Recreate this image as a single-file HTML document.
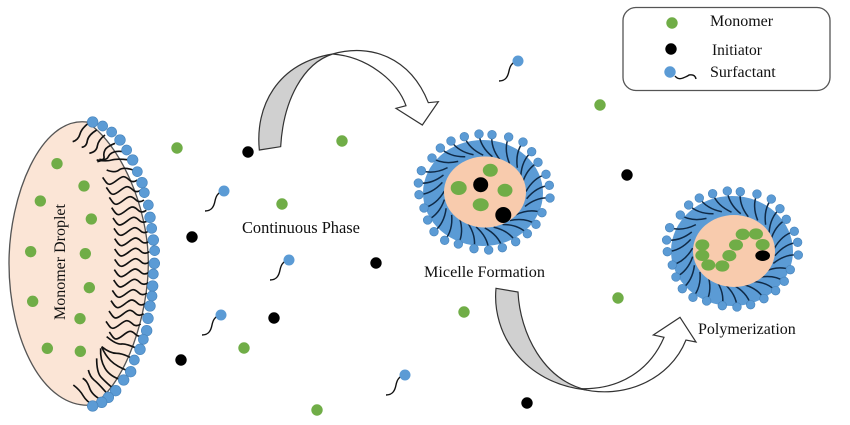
<!DOCTYPE html>
<html><head><meta charset="utf-8"><style>
html,body{margin:0;padding:0;background:#fff;width:850px;height:425px;overflow:hidden}
svg{display:block}
text{font-family:"Liberation Serif",serif;fill:#111}
</style></head><body>
<svg width="850" height="425" viewBox="0 0 850 425" xmlns="http://www.w3.org/2000/svg">
<defs>
<path id="w" d="M0,0 C-8,6 -14,6 -20,3 C-28,-2 -32,-10 -42,-10 C-54,-10 -70,13 -84,13 C-92,13 -98,0 -104,-8" fill="none" stroke="#111" stroke-width="5"/>
<path id="t" d="M0,0 C0,27 12,51 33,72" fill="none" stroke="#0f2a47" stroke-width="4.5"/>
<circle id="h" r="13" fill="#5b9bd5" stroke="#4a86bd" stroke-width="2"/>
<path id="s" d="M0,0 C-6,1 -8,5 -9,10 C-10,15 -12,20 -19,20" fill="none" stroke="#111" stroke-width="1.4"/>
<g id="ring">
<g transform="translate(237,57) rotate(-6)"><use href="#t"/></g><g transform="translate(276,59) rotate(7)"><use href="#t"/></g><g transform="translate(326,66) rotate(23)"><use href="#t"/></g><g transform="translate(369,81) rotate(37)"><use href="#t"/></g><g transform="translate(395,110) rotate(49)"><use href="#t"/></g><g transform="translate(414,142) rotate(61)"><use href="#t"/></g><g transform="translate(438,178) rotate(74)"><use href="#t"/></g><g transform="translate(448,211) rotate(84)"><use href="#t"/></g><g transform="translate(450,249) rotate(96)"><use href="#t"/></g><g transform="translate(426,293) rotate(110)"><use href="#t"/></g><g transform="translate(408,328) rotate(123)"><use href="#t"/></g><g transform="translate(382,356) rotate(135)"><use href="#t"/></g><g transform="translate(347,380) rotate(148)"><use href="#t"/></g><g transform="translate(307,398) rotate(163)"><use href="#t"/></g><g transform="translate(266,405) rotate(176)"><use href="#t"/></g><g transform="translate(222,401) rotate(191)"><use href="#t"/></g><g transform="translate(175,387) rotate(207)"><use href="#t"/></g><g transform="translate(134,376) rotate(220)"><use href="#t"/></g><g transform="translate(102,350) rotate(232)"><use href="#t"/></g><g transform="translate(83,315) rotate(244)"><use href="#t"/></g><g transform="translate(72,279) rotate(255)"><use href="#t"/></g><g transform="translate(57,239) rotate(267)"><use href="#t"/></g><g transform="translate(55,204) rotate(277)"><use href="#t"/></g><g transform="translate(64,167) rotate(288)"><use href="#t"/></g><g transform="translate(96,129) rotate(302)"><use href="#t"/></g><g transform="translate(121,99) rotate(314)"><use href="#t"/></g><g transform="translate(153,78) rotate(326)"><use href="#t"/></g><g transform="translate(193,65) rotate(339)"><use href="#t"/></g>
<use href="#h" x="237" y="57"/><use href="#h" x="276" y="59"/><use href="#h" x="326" y="66"/><use href="#h" x="369" y="81"/><use href="#h" x="395" y="110"/><use href="#h" x="414" y="142"/><use href="#h" x="438" y="178"/><use href="#h" x="448" y="211"/><use href="#h" x="450" y="249"/><use href="#h" x="426" y="293"/><use href="#h" x="408" y="328"/><use href="#h" x="382" y="356"/><use href="#h" x="347" y="380"/><use href="#h" x="307" y="398"/><use href="#h" x="266" y="405"/><use href="#h" x="222" y="401"/><use href="#h" x="175" y="387"/><use href="#h" x="134" y="376"/><use href="#h" x="102" y="350"/><use href="#h" x="83" y="315"/><use href="#h" x="72" y="279"/><use href="#h" x="57" y="239"/><use href="#h" x="55" y="204"/><use href="#h" x="64" y="167"/><use href="#h" x="96" y="129"/><use href="#h" x="121" y="99"/><use href="#h" x="153" y="78"/><use href="#h" x="193" y="65"/>
</g>
</defs>

<!-- Droplet -->
<g transform="translate(0,100) scale(.33333)">
<path d="M260,66 C120,50 27,290 27,490 C27,720 130,930 278,915 C380,850 445,640 445,490 C445,320 360,130 260,66 Z" fill="#fbe5d6" stroke="#555" stroke-width="4"/>
<g fill="#70ad47">
<circle cx="171" cy="191" r="17"/><circle cx="252" cy="258" r="17"/><circle cx="121" cy="303" r="17"/><circle cx="274" cy="357" r="17"/><circle cx="92" cy="455" r="17"/><circle cx="256" cy="461" r="17"/><circle cx="268" cy="563" r="17"/><circle cx="98" cy="604" r="17"/><circle cx="240" cy="656" r="17"/><circle cx="142" cy="745" r="17"/><circle cx="241" cy="754" r="17"/>
</g>
<g fill="none" stroke="#111" stroke-width="5">
<path d="M265,70 Q245,85 240,102 Q235,120 218,125"/>
<path d="M290,90 Q265,105 262,122 Q260,140 245,142"/>
<path d="M315,105 Q295,120 292,138 Q290,155 268,160"/>
<path d="M345,130 Q320,140 315,150 Q310,160 312,170 Q315,180 292,185"/>
<path d="M370,155 Q335,150 325,170 Q320,182 298,178"/>
<path d="M390,180 Q350,175 335,180 Q320,185 290,180"/>
<path d="M400,210 Q370,200 357,210 Q345,220 320,210"/>
<path d="M420,750 Q380,730 365,732 Q350,735 320,710"/>
<path d="M405,780 Q370,760 350,760 Q330,760 305,740"/>
<path d="M390,815 Q350,800 332,782 Q315,765 305,740"/>
<path d="M365,840 Q330,830 315,805 Q300,780 302,745"/>
<path d="M345,870 Q315,845 302,830 Q290,815 290,775"/>
<path d="M325,885 Q295,850 282,840 Q270,830 265,810"/>
<path d="M305,900 Q275,885 268,862 Q260,840 248,835"/>
<path d="M280,915 Q260,905 250,888 Q240,870 220,855"/>
</g>
<use href="#w" x="412" y="240"/><use href="#w" x="423" y="270"/><use href="#w" x="432" y="300"/><use href="#w" x="439" y="331"/><use href="#w" x="443" y="362"/><use href="#w" x="446" y="393"/><use href="#w" x="448" y="424"/><use href="#w" x="448" y="455"/><use href="#w" x="448" y="486"/><use href="#w" x="447" y="517"/><use href="#w" x="445" y="548"/><use href="#w" x="441" y="579"/><use href="#w" x="437" y="610"/><use href="#w" x="431" y="641"/><use href="#w" x="422" y="672"/><use href="#w" x="432" y="704"/>
<g fill="#5b9bd5" stroke="#4a86bd" stroke-width="2">
<circle cx="278" cy="66" r="16"/><circle cx="308" cy="78" r="15"/><circle cx="335" cy="96" r="15"/><circle cx="360" cy="120" r="16"/><circle cx="380" cy="150" r="15"/><circle cx="398" cy="180" r="16"/><circle cx="412" cy="215" r="15"/><circle cx="426" cy="248" r="16"/><circle cx="433" cy="278" r="15"/><circle cx="445" cy="315" r="15"/><circle cx="450" cy="352" r="16"/><circle cx="455" cy="385" r="15"/><circle cx="460" cy="420" r="16"/><circle cx="464" cy="452" r="15"/><circle cx="463" cy="490" r="16"/><circle cx="460" cy="522" r="15"/><circle cx="458" cy="558" r="16"/><circle cx="456" cy="588" r="15"/><circle cx="450" cy="618" r="16"/><circle cx="444" cy="655" r="16"/><circle cx="440" cy="692" r="16"/><circle cx="430" cy="718" r="15"/><circle cx="420" cy="748" r="16"/><circle cx="403" cy="780" r="15"/><circle cx="392" cy="815" r="16"/><circle cx="371" cy="840" r="16"/><circle cx="347" cy="872" r="16"/><circle cx="325" cy="892" r="16"/><circle cx="305" cy="907" r="16"/><circle cx="278" cy="918" r="16"/>
</g>
</g>
<text transform="translate(65,320) rotate(-90)" font-size="16">Monomer Droplet</text>

<!-- Arrow 1 -->
<g transform="translate(240,40) scale(.33333)" stroke="#333" stroke-width="3.6" stroke-linejoin="miter">
<path d="M278,42 C390,10 510,50 565,188 L595,185 L547,255 L468,205 L498,197 C470,120 380,50 278,42 Z" fill="#fff"/>
<path d="M58,330 C45,200 110,70 278,42 C190,70 130,180 122,320 Z" fill="#d0d0d0"/>
</g>
<!-- Arrow 2 -->
<g transform="translate(480,280) scale(.33333)" stroke="#333" stroke-width="3.6" stroke-linejoin="miter">
<path d="M300,326 C430,360 570,300 618,180 L648,186 L600,112 L520,165 L552,172 C510,270 420,330 300,326 Z" fill="#fff"/>
<path d="M48,25 L114,36 C120,160 190,300 320,330 C130,310 35,160 48,25 Z" fill="#d0d0d0"/>
</g>

<!-- Micelle 1 -->
<ellipse cx="483" cy="193" rx="60" ry="53" fill="#5b9bd5"/>
<g transform="translate(400,115) scale(.33333)"><use href="#ring"/></g>
<ellipse cx="485" cy="192" rx="41" ry="35.5" fill="#f8cbad"/>
<g fill="#70ad47"><ellipse cx="490.3" cy="170.3" rx="7.5" ry="6.5"/><ellipse cx="458.7" cy="188" rx="8" ry="7"/><ellipse cx="505" cy="190.3" rx="7.5" ry="6.5"/><ellipse cx="480.7" cy="204.7" rx="8" ry="6.5"/></g>
<circle cx="480.7" cy="184.7" r="7.5" fill="#000"/><circle cx="503.3" cy="215" r="8" fill="#000"/>

<!-- Micelle 2 -->
<ellipse cx="732" cy="251" rx="61" ry="55" fill="#5b9bd5"/>
<g transform="translate(648.3,172) scale(.33333)"><use href="#ring"/></g>
<ellipse cx="734" cy="251" rx="41" ry="36" fill="#f8cbad"/>
<g transform="translate(650,180) scale(.33333)">
<g fill="#70ad47"><ellipse cx="278" cy="163" rx="21" ry="17"/><ellipse cx="318" cy="162" rx="21" ry="17"/><ellipse cx="338" cy="194" rx="21" ry="17"/><ellipse cx="258" cy="195" rx="21" ry="17"/><ellipse cx="238" cy="227" rx="21" ry="17"/><ellipse cx="217" cy="258" rx="21" ry="17"/><ellipse cx="175" cy="255" rx="21" ry="17"/><ellipse cx="157" cy="226" rx="21" ry="17"/><ellipse cx="157" cy="195" rx="21" ry="17"/></g>
<ellipse cx="338" cy="227" rx="22" ry="16" fill="#000"/>
</g>

<!-- Scatter -->
<g fill="#70ad47"><circle cx="177" cy="148" r="5.7"/><circle cx="342" cy="141" r="5.7"/><circle cx="282" cy="204" r="5.7"/><circle cx="600" cy="105" r="5.7"/><circle cx="464" cy="312" r="5.7"/><circle cx="618" cy="298" r="5.7"/><circle cx="244" cy="348" r="5.7"/><circle cx="317" cy="410" r="5.7"/></g>
<g fill="#000"><circle cx="248" cy="152" r="5.7"/><circle cx="192" cy="237" r="5.7"/><circle cx="376" cy="263" r="5.7"/><circle cx="274" cy="318" r="5.7"/><circle cx="181" cy="360" r="5.7"/><circle cx="627" cy="175" r="5.7"/><circle cx="527" cy="403" r="5.7"/></g>
<use href="#s" x="224" y="191"/><use href="#s" x="289" y="260"/><use href="#s" x="221" y="315"/><use href="#s" x="405" y="375"/><use href="#s" x="518" y="61"/>
<g fill="#5b9bd5"><circle cx="224" cy="191" r="5.5"/><circle cx="289" cy="260" r="5.5"/><circle cx="221" cy="315" r="5.5"/><circle cx="405" cy="375" r="5.5"/><circle cx="518" cy="61" r="5.5"/></g>

<!-- Labels -->
<text x="242" y="233" font-size="16.4">Continuous Phase</text>
<text x="424" y="277" font-size="16.2">Micelle Formation</text>
<text x="698" y="334" font-size="16">Polymerization</text>

<!-- Legend -->
<rect x="623" y="7.5" width="207" height="83" rx="13" fill="#fff" stroke="#555" stroke-width="1.3"/>
<circle cx="672" cy="23" r="5.7" fill="#70ad47"/>
<circle cx="671" cy="49" r="5.7" fill="#000"/>
<path d="M675,76 q3,4 8,2 t6,-3 q6,-1 7,4" fill="none" stroke="#111" stroke-width="1.4"/>
<circle cx="670" cy="72" r="5.7" fill="#5b9bd5"/>
<text x="710" y="26" font-size="16">Monomer</text>
<text x="712" y="55" font-size="15.5">Initiator</text>
<text x="710" y="77" font-size="16">Surfactant</text>
</svg>
</body></html>
